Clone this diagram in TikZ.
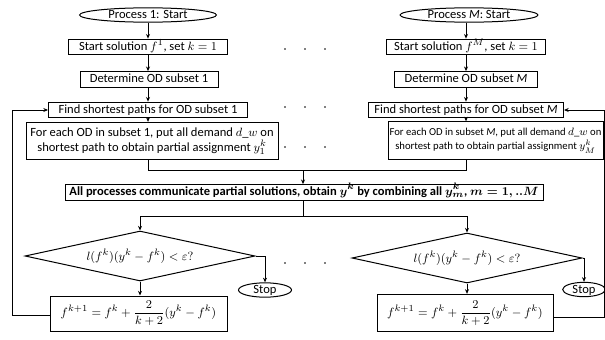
\documentclass[tikz,border=0pt]{standalone}
\usepackage{amsmath}
\usepackage{fontspec}
\setmainfont{Carlito}
\usetikzlibrary{shapes.geometric,arrows.meta}

\tikzset{every picture/.style={line width=0.75pt}}
\tikzset{
  blk/.style={draw, rectangle, inner xsep=2pt, inner ysep=1.5pt, text height=6.8pt, text depth=2pt},
  twoblk/.style={draw, rectangle, inner xsep=1pt, inner ysep=2pt, align=center},
  oval/.style={draw, ellipse, inner sep=0pt, text height=6.6pt, text depth=1pt},
  test/.style={draw, diamond, inner sep=0pt, shape aspect=4.6, minimum width=172.5pt, minimum height=37.5pt},
  arr/.style={-{Stealth[length=3.5pt,width=3pt]}},
}

\begin{document}
\begin{tikzpicture}[x=0.75pt,y=0.75pt,yscale=-1,xscale=1,font=\fontsize{9.4}{11}\selectfont]
\useasboundingbox (0,0) rectangle (605,339);

% Process 1
\node [oval, minimum width=102.75pt, minimum height=10.5pt] (p1) at (148,15) {Process 1: Start};
\node [blk, minimum width=119.25pt] (s1) at (148,47) {Start solution $f^{1}$, set $k=1$};
\node [blk, minimum width=103.5pt] (d1) at (149,79.5) {Determine OD subset 1};
\node [blk, minimum width=149.25pt] (f1) at (148,110) {Find shortest paths for OD subset 1};
\node [twoblk, minimum width=189pt, minimum height=28pt] (e1) at (152,141) {For each OD in subset 1, put all demand $d\_w$ on\\shortest path to obtain partial assignment $y_{1}^{k}$};

% Process M
\node [oval, minimum width=103.5pt, minimum height=10.5pt] (pM) at (469,15) {Process \textit{M}: Start};
\node [blk, minimum width=119.25pt] (sM) at (466,47) {Start solution $f^{M}$, set $k=1$};
\node [blk, minimum width=107.25pt] (dM) at (466,79.5) {Determine OD subset \textit{M}};
\node [blk, minimum width=146.25pt] (fM) at (466,110) {Find shortest paths for OD subset \textit{M}};
\node [twoblk, minimum width=161.25pt, minimum height=28pt, font=\fontsize{8}{11}\selectfont] (eM) at (495.5,140.5) {For each OD in subset \textit{M}, put all demand $d\_w$ on\\shortest path to obtain partial assignment $y_{M}^{k}$};

% combine
\node [blk, minimum width=358.5pt, inner ysep=1pt, text depth=3pt, font=\fontsize{9.4}{11}\selectfont\bfseries\boldmath] (all) at (304,192.5) {All processes communicate partial solutions, obtain $y^{k}$ by combining all $y_{m}^{k}$, $m=1,..M$};

% tests
\node [test] (q1) at (140,256) {$l(f^{k})(y^{k}-f^{k})<\varepsilon?$};
\node [test] (q2) at (467,258) {$l(f^{k})(y^{k}-f^{k})<\varepsilon?$};
\node [oval, minimum width=39.75pt, minimum height=10.5pt] (stop1) at (265,290) {Stop};
\node [oval, minimum width=32pt, minimum height=10.5pt] (stopM) at (584,289.5) {Stop};

% updates
\node [draw, rectangle, minimum width=132.75pt, minimum height=26.25pt, inner sep=1pt] (u1) at (138.5,313.5) {$f^{k+1}=f^{k}+\dfrac{2}{k+2}(y^{k}-f^{k})$};
\node [draw, rectangle, minimum width=132pt, minimum height=28pt, inner sep=1pt] (uM) at (465,313) {$f^{k+1}=f^{k}+\dfrac{2}{k+2}(y^{k}-f^{k})$};

\coordinate (j) at (303,170);
\coordinate (k) at (303,216);
\coordinate (lb) at (12,315);
\coordinate (rb) at (604,317);

% Straight Lines
\draw [arr] (p1) -- (s1);
\draw [arr] (s1) -- (d1.north -| s1);
\draw [arr] (d1.south -| f1) -- (f1);
\draw [arr] (f1) -- (f1 |- e1.north);
\draw [arr] (pM.south -| sM) -- (sM);
\draw [arr] (sM) -- (dM);
\draw [arr] (dM) -- (fM);
\draw [arr] (fM.south) -- (fM |- eM.north);
\draw (f1 |- e1.south) |- (j);
\draw (fM |- eM.south) |- (j);
\draw [arr] (j) -- (j |- all.north);
\draw (j |- all.south) -- (k);
\draw [arr] (k) -| (q1.north);
\draw [arr] (k) -| (q2.north);
\draw [arr] (q1.east) -| (stop1.north);
\draw [arr] (q2.east) -| (stopM.north);
\draw [arr] (q1.south) -- (q1 |- u1.north);
\draw [arr] (q2.south) -- (q2 |- uM.north);
\draw [arr] (lb -| u1.west) -- (lb) |- (f1.west);
\draw [arr] (rb -| uM.east) -- (rb) |- (fM.east);

% dots
\foreach \yy in {49,107,147,263}
  \foreach \xx in {285,305,325}
    \fill (\xx,\yy) circle (0.9);

\end{tikzpicture}
\end{document}
